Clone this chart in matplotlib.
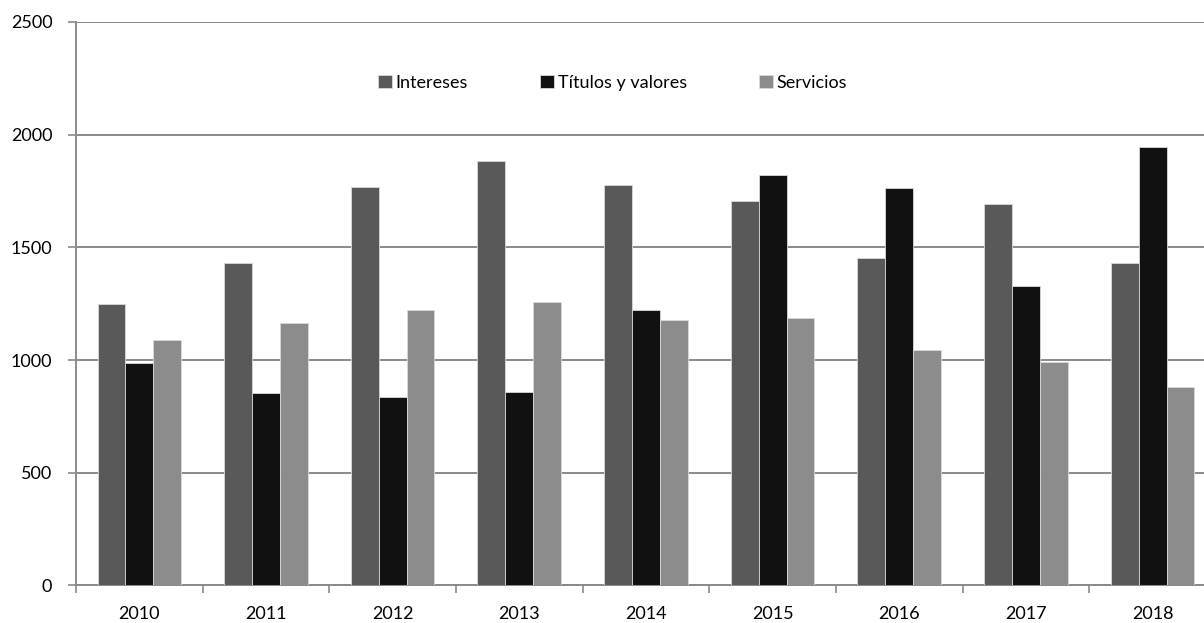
"""Grouped bar chart: Intereses, Títulos y valores y Servicios, 2010-2018."""

from matplotlib import pyplot as plt
import numpy as np

plt.rcParams['font.family'] = ['Lato', 'DejaVu Sans']

years = ['2010', '2011', '2012', '2013', '2014', '2015', '2016', '2017', '2018']
intereses = [1250, 1430, 1770, 1885, 1778, 1706, 1451, 1693, 1430]
titulos = [988, 853, 838, 859, 1222, 1821, 1764, 1329, 1947]
servicios = [1087, 1166, 1222, 1258, 1180, 1186, 1045, 992, 879]

series = [('Intereses', intereses, '#595959'),
          ('Títulos y valores', titulos, '#111111'),
          ('Servicios', servicios, '#8c8c8c')]

fig = plt.figure(figsize=(12.04, 6.23), dpi=100)
# Axes runs past the right edge of the picture, as in the original.
ax = fig.add_axes([0.0631, 0.0602, 0.9468, 0.9045])

x = np.arange(len(years))
w = 0.22
for i, (name, vals, col) in enumerate(series):
    ax.bar(x + (i - 1) * w, vals, w, color=col, edgecolor='#d9d9d9',
           linewidth=0.6, label=name, zorder=3)

ax.set_xlim(-0.5, len(years) - 0.5)
ax.set_ylim(0, 2500)
ax.set_yticks(np.arange(0, 2501, 500))
ax.yaxis.grid(True, color='#8a8a8a', linewidth=1.4, zorder=0)

# category labels at centres, tick marks on the boundaries
ax.set_xticks(x)
ax.set_xticklabels(years)
ax.set_xticks(np.arange(-0.5, len(years)), minor=True)
ax.tick_params(axis='x', which='major', length=0, pad=15, labelsize=13)
ax.tick_params(axis='x', which='minor', length=6, width=1.2, color='#8a8a8a')
ax.tick_params(axis='y', length=6, width=1.2, color='#8a8a8a', pad=11,
               labelsize=13)

for side in ('top', 'right'):
    ax.spines[side].set_visible(False)
for side in ('left', 'bottom'):
    ax.spines[side].set_color('#8a8a8a')
    ax.spines[side].set_linewidth(1.4)

ax.legend(loc='center', bbox_to_anchor=(0.4706, 0.892), ncol=3, frameon=False,
          fontsize=13, handlelength=0.78, handleheight=0.78, handletextpad=0.2,
          columnspacing=4.0)

fig.savefig('out.png', dpi=100)
